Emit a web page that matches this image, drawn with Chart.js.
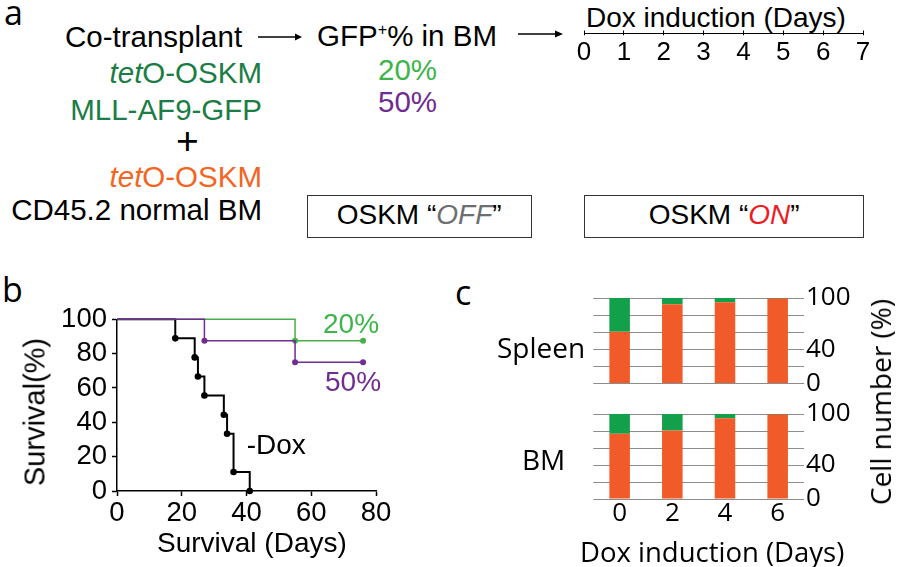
<!DOCTYPE html>
<html>
<head>
<meta charset="utf-8">
<script src="https://cdn.jsdelivr.net/npm/chart.js@4.4.1/dist/chart.umd.min.js"></script>
<style>
  html, body { margin: 0; padding: 0; background: #fff; }
  #page { position: relative; width: 900px; height: 567px; overflow: hidden; }
  .box { position: absolute; }
  .t { position: absolute; white-space: nowrap; line-height: 1; font-family: "Liberation Sans", Arial, sans-serif; color: #000; }
  .o { font-family: "Open Sans", sans-serif; }
  .r { text-align: right; }
  .frame { position: absolute; border: 1.5px solid #333; box-sizing: border-box; }
  sup { font-size: 0.55em; vertical-align: 0.7em; line-height: 0; }
</style>
</head>
<body>
<div id="page">
  <!-- panel a -->
  <div class="t o" style="left:4px;top:-5px;font-size:34px;">a</div>
  <div class="t" style="left:65px;top:21.5px;font-size:29.5px;">Co-transplant</div>
  <svg class="box" style="left:255px;top:30px" width="50" height="14"><line x1="3" y1="7" x2="42" y2="7" stroke="#000" stroke-width="1.3"/><path d="M40 3.5 L47 7 L40 10.5 Z" fill="#000"/></svg>
  <div class="t" style="left:317px;top:20.5px;font-size:29.5px;">GFP<sup>+</sup>% in BM</div>
  <svg class="box" style="left:515px;top:26.5px" width="52" height="14"><line x1="3" y1="7" x2="42" y2="7" stroke="#000" stroke-width="1.3"/><path d="M40 3.5 L48 7 L40 10.5 Z" fill="#000"/></svg>
  <div class="t r" style="right:638px;top:58px;font-size:29.5px;color:#1b7d45;"><i>tet</i>O-OSKM</div>
  <div class="t r" style="right:638px;top:95px;font-size:29.5px;color:#1b7d45;">MLL-AF9-GFP</div>
  <div class="t" style="left:176px;top:121px;font-size:39px;">+</div>
  <div class="t r" style="right:638px;top:161.5px;font-size:29.5px;color:#f26522;"><i>tet</i>O-OSKM</div>
  <div class="t r" style="right:638px;top:195px;font-size:29.5px;">CD45.2 normal BM</div>
  <div class="t" style="left:378px;top:55px;font-size:29.5px;color:#3db54a;">20%</div>
  <div class="t" style="left:378px;top:86.5px;font-size:29.5px;color:#6f2c91;">50%</div>
  <div class="t" style="left:586px;top:3.6px;font-size:28px;">Dox induction (Days)</div>
  <div class="box" style="left:564.3px;top:0px;width:319px;height:70px;"><canvas id="timeline"></canvas></div>
  <div class="frame" style="left:306.7px;top:195px;width:225px;height:42.5px;"></div>
  <div class="t" style="left:306.7px;width:225px;text-align:center;top:201.3px;font-size:28px;">OSKM “<i style="color:#6d6e71">OFF</i>”</div>
  <div class="frame" style="left:584.3px;top:195px;width:279.7px;height:43px;"></div>
  <div class="t" style="left:584.3px;width:279.7px;text-align:center;top:201.3px;font-size:28px;">OSKM “<i style="color:#ed1c24">ON</i>”</div>

  <!-- panel b -->
  <div class="t o" style="left:2px;top:271.5px;font-size:34px;">b</div>
  <div class="box" style="left:0px;top:290px;width:420px;height:277px;"><canvas id="survival"></canvas></div>
  <div class="t" style="left:35px;top:412px;font-size:29px;transform:translate(-50%,-50%) rotate(-90deg);">Survival(%)</div>
  <div class="t" style="left:157px;top:529.3px;font-size:28px;">Survival (Days)</div>
  <div class="t" style="left:323px;top:309.6px;font-size:28px;color:#3db54a;">20%</div>
  <div class="t" style="left:325px;top:368px;font-size:28px;color:#6f2c91;">50%</div>
  <div class="t" style="left:246.7px;top:431.3px;font-size:28px;">-Dox</div>

  <!-- panel c -->
  <div class="t o" style="left:455px;top:274.8px;font-size:34px;">c</div>
  <div class="box" style="left:580px;top:277.7px;width:320px;height:125.6px;"><canvas id="spleen"></canvas></div>
  <div class="box" style="left:580px;top:394px;width:320px;height:145px;"><canvas id="bm"></canvas></div>
  <div class="t o" style="left:497px;top:333.4px;font-size:28px;">Spleen</div>
  <div class="t o" style="left:522px;top:445px;font-size:28px;">BM</div>
  <div class="t o" style="left:580px;top:537.5px;font-size:27.5px;">Dox induction (Days)</div>
  <div class="t o" style="left:880px;top:401.7px;font-size:28px;transform:translate(-50%,-50%) rotate(-90deg);">Cell number (%)</div>
</div>
<script>
(() => {
    const timelineDays = [0, 7];

    const doxDays = [0, 18, 24, 25, 27, 33, 34, 36, 41];
    const doxSurvival = [100, 88.9, 77.8, 66.7, 55.6, 44.4, 33.3, 11.1, 0];
    const gfp20Days = [0, 55, 76];
    const gfp20Survival = [100, 87.5, 87.5];
    const gfp50Days = [0, 27, 55, 76];
    const gfp50Survival = [100, 87.5, 75, 75];

    const cellDays = ["0", "2", "4", "6"];
    const spleenOskm = [60.5, 92.8, 95.1, 99.3];
    const spleenGfp = [39.5, 7.2, 4.9, 0.7];
    const bmOskm = [76.7, 80.6, 94.9, 99.3];
    const bmGfp = [23.3, 19.4, 5.1, 0.7];
    const cellTickLabels = [0, 40, 100];

    const green = "#4aae4a";
    const purple = "#6f2c91";
    const barOrange = "#f15a29";
    const barGreen = "#12a04b";
    const arial = "'Liberation Sans', Arial, sans-serif";
    const open = "'Open Sans', sans-serif";

    Chart.defaults.animation = false;
    Chart.defaults.color = "#000";
    Chart.defaults.plugins.legend.display = false;
    Chart.defaults.plugins.tooltip.enabled = false;

    const toPoints = (xs, ys) => xs.map((x, i) => ({ x, y: ys[i] }));
    const dotRadius = (r) => (ctx) => (ctx.dataIndex === 0 ? 0 : r);

    // timeline axis in panel a
    new Chart(document.getElementById("timeline"), {
        type: "scatter",
        data: { datasets: [{ data: [] }] },
        options: {
            responsive: true,
            maintainAspectRatio: false,
            layout: { padding: { left: 20, right: 20, top: 30.5, bottom: 0 } },
            scales: {
                x: {
                    type: "linear",
                    min: timelineDays[0],
                    max: timelineDays[1],
                    ticks: { stepSize: 1, padding: 5, font: { family: arial, size: 26, lineHeight: 1 } },
                    grid: { color: "#000", lineWidth: 1, drawTicks: true, tickLength: 2, tickColor: "#000" },
                    border: { display: true, color: "#000", width: 1 },
                    afterFit: (s) => { s.height = 36.7; }
                },
                y: { display: false, min: 0, max: 1 }
            }
        }
    });

    // Kaplan-Meier survival in panel b
    new Chart(document.getElementById("survival"), {
        type: "line",
        data: {
            datasets: [
                {
                    data: toPoints(gfp50Days, gfp50Survival),
                    borderColor: purple,
                    backgroundColor: purple,
                    borderWidth: 1.5,
                    stepped: true,
                    pointRadius: dotRadius(3),
                    pointBorderWidth: 0,
                    clip: false
                },
                {
                    data: toPoints(gfp20Days, gfp20Survival),
                    borderColor: green,
                    backgroundColor: green,
                    borderWidth: 1.5,
                    stepped: true,
                    pointRadius: dotRadius(3),
                    pointBorderWidth: 0,
                    clip: false
                },
                {
                    data: toPoints(doxDays, doxSurvival),
                    borderColor: "#000",
                    backgroundColor: "#000",
                    borderWidth: 2,
                    stepped: true,
                    pointRadius: dotRadius(3.3),
                    pointBorderWidth: 0,
                    clip: false
                }
            ]
        },
        options: {
            responsive: true,
            maintainAspectRatio: false,
            layout: { padding: { left: 0, right: 44, top: 29.3, bottom: 36 } },
            scales: {
                x: {
                    type: "linear",
                    min: 0,
                    max: 80,
                    ticks: { stepSize: 20, padding: 4, font: { family: arial, size: 27.5, lineHeight: 1 } },
                    grid: { drawOnChartArea: false, drawTicks: true, tickLength: 5, tickColor: "#000", tickWidth: 1.5 },
                    border: { color: "#000", width: 1.5 },
                    afterFit: (s) => { s.height = 40; }
                },
                y: {
                    min: 0,
                    max: 100,
                    ticks: { stepSize: 20, padding: 5, autoSkip: false, font: { family: arial, size: 27.5, lineHeight: 1 } },
                    grid: { drawOnChartArea: false, drawTicks: true, tickLength: 5, tickColor: "#000", tickWidth: 1.5 },
                    border: { color: "#000", width: 1.5 },
                    afterFit: (s) => { s.width = 117; }
                }
            }
        }
    });

    // stacked cell fractions in panel c
    const cellChart = (id, oskm, gfp, showDays, padding) => new Chart(document.getElementById(id), {
        type: "bar",
        data: {
            labels: cellDays,
            datasets: [
                { data: oskm, backgroundColor: barOrange, barPercentage: 0.39, categoryPercentage: 1 },
                { data: gfp, backgroundColor: barGreen, barPercentage: 0.39, categoryPercentage: 1 }
            ]
        },
        options: {
            responsive: true,
            maintainAspectRatio: false,
            layout: { padding },
            scales: {
                x: {
                    stacked: true,
                    display: showDays,
                    grid: { display: false },
                    border: { display: false },
                    ticks: { padding: 0, font: { family: open, size: 26, lineHeight: 0.5 } },
                    afterFit: (s) => { if (showDays) s.height = 40; }
                },
                y: {
                    stacked: true,
                    position: "right",
                    min: 0,
                    max: 100,
                    grid: { color: "#8c8c8c", lineWidth: 1, drawTicks: false },
                    border: { display: false },
                    ticks: {
                        stepSize: 20,
                        padding: 2,
                        autoSkip: false,
                        font: { family: open, size: 26, lineHeight: 0.6 },
                        callback: (v) => (cellTickLabels.includes(v) ? String(v) : "")
                    },
                    afterFit: (s) => { s.width = 96; }
                }
            }
        }
    });

    cellChart("spleen", spleenOskm, spleenGfp, false, { left: 13.3, right: 0, top: 20, bottom: 20 });
    cellChart("bm", bmOskm, bmGfp, true, { left: 13.3, right: 0, top: 20, bottom: 0 });
})();
</script>
</body>
</html>
